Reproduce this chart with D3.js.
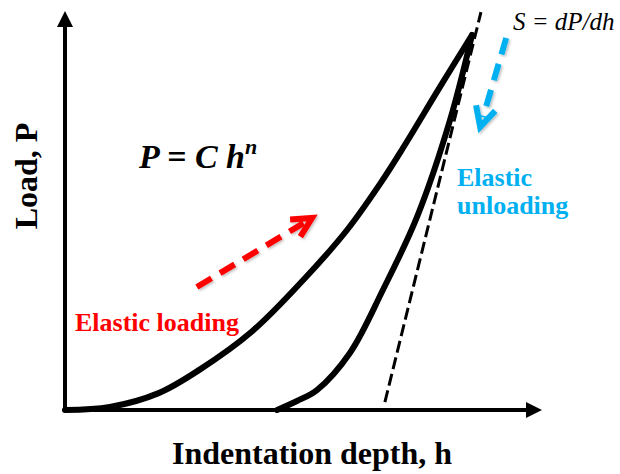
<!DOCTYPE html>
<html>
<head>
<meta charset="utf-8">
<script src="https://cdn.jsdelivr.net/npm/d3@7"></script>
<style>
  html, body { margin: 0; padding: 0; background: #fff; }
  svg { display: block; }
</style>
</head>
<body>
<svg id="chart" width="620" height="474"></svg>
<script>
// Load–depth curve of an indentation test (arbitrary units, peak = 100, 100)
const loadingDepth   = [0, 11, 23, 33, 46, 59, 69.3, 77.4, 83, 92.1, 100];
const loadingLoad    = [0, 0.8, 4.5, 10.7, 21, 35.2, 48, 60.3, 69.8, 86.1, 100];
const unloadingDepth = [52.1, 57, 61.9, 70, 78.1, 86.5, 94.6, 100];
const unloadingLoad  = [0, 2.4, 5.3, 15.2, 32, 51.5, 77.3, 100];
// Contact stiffness tangent at peak load
const tangentDepth   = [78.6, 102.2];
const tangentLoad    = [2.1, 106.1];
// Direction arrows (start, tip)
const loadArrowDepth   = [32.4, 60.7];
const loadArrowLoad    = [32.8, 51.2];
const unloadArrowDepth = [108.4, 102.0];
const unloadArrowLoad  = [99.2, 75.5];
// Axis extents (arrow tips)
const depthAxisEnd = 117.2;
const loadAxisEnd  = 106.4;

const xLabel = "Indentation depth, h";
const yLabel = "Load, P";

const svg = d3.select("#chart");
const x = d3.scaleLinear().domain([0, 100]).range([65, 472]);
const y = d3.scaleLinear().domain([0, 100]).range([410, 35]);
const serif = '"Liberation Serif", "Times New Roman"';

// Axes with arrowheads
const axisW = 4;
svg.append("line")
  .attr("x1", x(0)).attr("y1", y(0) + 2)
  .attr("x2", x(0)).attr("y2", y(loadAxisEnd) + 12)
  .attr("stroke", "#000").attr("stroke-width", axisW);
svg.append("path")
  .attr("d", `M${x(0)},${y(loadAxisEnd)} L${x(0) - 8},${y(loadAxisEnd) + 16} L${x(0) + 8},${y(loadAxisEnd) + 16} Z`)
  .attr("fill", "#000");
svg.append("line")
  .attr("x1", x(0) - 2).attr("y1", y(0))
  .attr("x2", x(depthAxisEnd) - 12).attr("y2", y(0))
  .attr("stroke", "#000").attr("stroke-width", axisW);
svg.append("path")
  .attr("d", `M${x(depthAxisEnd)},${y(0)} L${x(depthAxisEnd) - 16},${y(0) - 8} L${x(depthAxisEnd) - 16},${y(0) + 8} Z`)
  .attr("fill", "#000");

// Tangent line S = dP/dh
svg.append("line")
  .attr("x1", x(tangentDepth[0])).attr("y1", y(tangentLoad[0]))
  .attr("x2", x(tangentDepth[1])).attr("y2", y(tangentLoad[1]))
  .attr("stroke", "#000").attr("stroke-width", 3)
  .attr("stroke-dasharray", "12,5");

// Loading and unloading curves
const line = d3.line()
  .x(d => x(d[0])).y(d => y(d[1]))
  .curve(d3.curveCatmullRom.alpha(0.5));
const curveStyle = sel => sel.attr("fill", "none").attr("stroke", "#000")
  .attr("stroke-width", 6).attr("stroke-linecap", "round").attr("stroke-linejoin", "round");

svg.append("path")
  .datum(d3.zip(loadingDepth, loadingLoad))
  .attr("d", line).call(curveStyle);
svg.append("path")
  .datum(d3.zip(unloadingDepth, unloadingLoad))
  .attr("d", line).call(curveStyle);

// Soft shadow for the coloured arrows
const defs = svg.append("defs");
const f = defs.append("filter").attr("id", "shadow")
  .attr("x", "-20%").attr("y", "-20%").attr("width", "140%").attr("height", "140%");
f.append("feDropShadow").attr("dx", 1.5).attr("dy", 1.5).attr("stdDeviation", 1.2)
  .attr("flood-color", "#000").attr("flood-opacity", 0.25);

function dashedArrow(hs, ps, color, dash) {
  const x0 = x(hs[0]), y0 = y(ps[0]), x1 = x(hs[1]), y1 = y(ps[1]);
  const ang = Math.atan2(y1 - y0, x1 - x0);
  const len = Math.hypot(x1 - x0, y1 - y0);
  const g = svg.append("g").attr("filter", "url(#shadow)");
  g.append("line")
    .attr("x1", x0).attr("y1", y0)
    .attr("x2", x0 + Math.cos(ang) * (len - 10)).attr("y2", y0 + Math.sin(ang) * (len - 10))
    .attr("stroke", color).attr("stroke-width", 6).attr("stroke-dasharray", dash);
  const back = ang + Math.PI, spread = 27 * Math.PI / 180, arm = 22;
  const a1 = [x1 + Math.cos(back - spread) * arm, y1 + Math.sin(back - spread) * arm];
  const a2 = [x1 + Math.cos(back + spread) * arm, y1 + Math.sin(back + spread) * arm];
  g.append("path")
    .attr("d", `M${a1[0]},${a1[1]} L${x1},${y1} L${a2[0]},${a2[1]}`)
    .attr("fill", "none").attr("stroke", color).attr("stroke-width", 6)
    .attr("stroke-linejoin", "miter");
}
dashedArrow(loadArrowDepth, loadArrowLoad, "#ff0000", "17,10");
dashedArrow(unloadArrowDepth, unloadArrowLoad, "#00b0f0", "17,10");

// Text
svg.append("text")
  .attr("x", 312).attr("y", 464)
  .attr("text-anchor", "middle")
  .style("font-family", serif).style("font-weight", "bold").style("font-size", "32px")
  .text(xLabel);
svg.append("text")
  .attr("transform", "translate(37,176) rotate(-90)")
  .attr("text-anchor", "middle")
  .style("font-family", serif).style("font-weight", "bold").style("font-size", "32px")
  .text(yLabel);

const eq = svg.append("text")
  .attr("x", 139).attr("y", 168)
  .style("font-family", serif).style("font-weight", "bold").style("font-style", "italic")
  .style("font-size", "34px");
eq.append("tspan").text("P = C h");
eq.append("tspan").style("font-size", "22px").attr("dy", -14).text("n");

svg.append("text")
  .attr("x", 513).attr("y", 30)
  .style("font-family", serif).style("font-style", "italic").style("font-size", "25px")
  .text("S = dP/dh");

svg.append("text")
  .attr("x", 75).attr("y", 331)
  .style("font-family", serif).style("font-weight", "bold").style("font-size", "26px")
  .attr("fill", "#ff0000")
  .text("Elastic loading");

const ul = svg.append("text")
  .style("font-family", serif).style("font-weight", "bold").style("font-size", "26px")
  .attr("fill", "#00b0f0");
ul.append("tspan").attr("x", 457).attr("y", 186).text("Elastic");
ul.append("tspan").attr("x", 457).attr("y", 214).text("unloading");
</script>
</body>
</html>
